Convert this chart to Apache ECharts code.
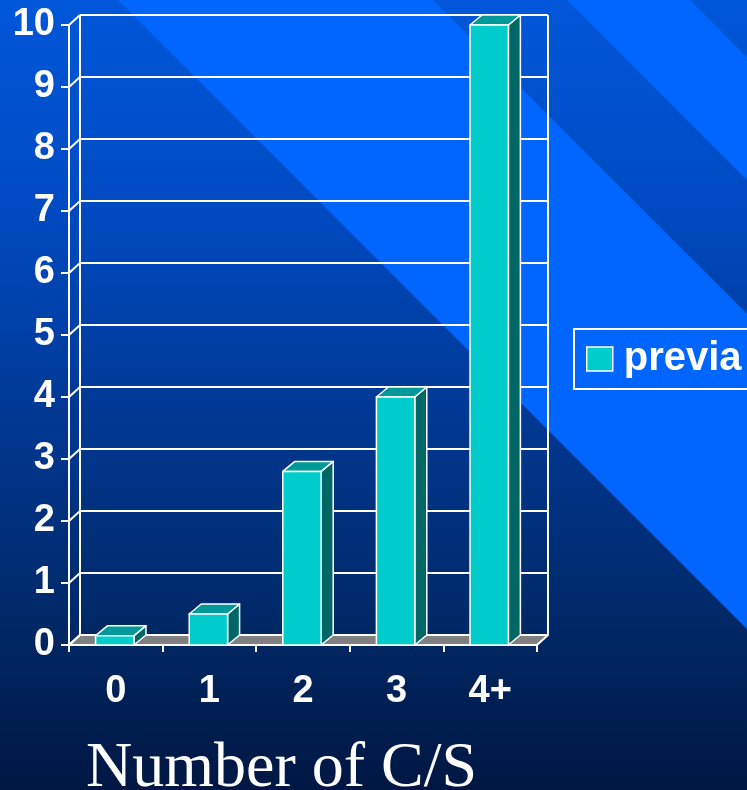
<!DOCTYPE html>
<html>
<head>
<meta charset="utf-8">
<script src="https://cdn.jsdelivr.net/npm/echarts@6/dist/echarts.min.js"></script>
<style>
  html, body { margin: 0; padding: 0; background: #00163f; }
  #chart { width: 747px; height: 790px; }
</style>
</head>
<body>
<div id="chart"></div>
<script>
// Chart data
const categories = ['0', '1', '2', '3', '4+'];
const previa = [0.15, 0.5, 2.8, 4, 10];
const yTicks = [0, 1, 2, 3, 4, 5, 6, 7, 8, 9, 10];
const seriesName = 'previa';
const axisTitle = 'Number of C/S';

// Styling constants
const FONT = "'Liberation Sans', Arial, sans-serif";
const FRONT = '#00CCCC';
const TOP = '#009999';
const SIDE = '#006666';
const FLOOR = '#808080';
const WALL_DX = 11, WALL_DY = -10;   // depth of the back wall
const BAR_DX = 12, BAR_DY = -10;     // depth of each bar
const LINE = { stroke: '#ffffff', lineWidth: 2 };

const chart = echarts.init(document.getElementById('chart'));

// Back wall, floor and depth connectors, positioned by the grid's scales
function renderFrame(params, api) {
  const cs = params.coordSys;
  const left = cs.x, right = cs.x + cs.width;
  const bottom = cs.y + cs.height;
  const children = [];
  children.push({
    type: 'polygon',
    shape: { points: [[left, bottom], [left + WALL_DX, bottom + WALL_DY], [right + WALL_DX, bottom + WALL_DY], [right, bottom]] },
    style: { fill: FLOOR, stroke: '#ffffff', lineWidth: 2, lineJoin: 'round' }
  });
  yTicks.forEach(function (v) {
    const y = api.coord([0, v])[1];
    children.push({
      type: 'line',
      shape: { x1: left + WALL_DX, y1: y + WALL_DY, x2: right + WALL_DX, y2: y + WALL_DY },
      style: LINE
    });
    children.push({
      type: 'line',
      shape: { x1: left, y1: y, x2: left + WALL_DX, y2: y + WALL_DY },
      style: LINE
    });
  });
  const yTop = api.coord([0, yTicks[yTicks.length - 1]])[1];
  [left, right].forEach(function (x) {
    children.push({
      type: 'line',
      shape: { x1: x + WALL_DX, y1: yTop + WALL_DY, x2: x + WALL_DX, y2: bottom + WALL_DY },
      style: LINE
    });
  });
  return { type: 'group', children: children };
}

// Prism-shaped bar: front face, top face and right side face
function renderBar(params, api) {
  const idx = api.value(0);
  const base = api.coord([idx, 0]);
  const tip = api.coord([idx, api.value(1)]);
  const band = api.size([1, 0])[0];
  const w = band * 0.41;
  const x0 = base[0] - w / 2 - 1;
  const x1 = x0 + w;
  const yb = base[1], yt = tip[1];
  const edge = { stroke: '#ffffff', lineWidth: 1.5, lineJoin: 'round' };
  return {
    type: 'group',
    children: [
      {
        type: 'polygon',
        shape: { points: [[x1, yt], [x1 + BAR_DX, yt + BAR_DY], [x1 + BAR_DX, yb + BAR_DY], [x1, yb]] },
        style: Object.assign({ fill: SIDE }, edge)
      },
      {
        type: 'polygon',
        shape: { points: [[x0, yt], [x0 + BAR_DX, yt + BAR_DY], [x1 + BAR_DX, yt + BAR_DY], [x1, yt]] },
        style: Object.assign({ fill: TOP }, edge)
      },
      {
        type: 'rect',
        shape: { x: x0, y: yt, width: w, height: yb - yt },
        style: Object.assign({ fill: FRONT }, edge)
      }
    ]
  };
}

const option = {
  backgroundColor: {
    type: 'linear', x: 0, y: 0, x2: 0, y2: 1,
    colorStops: [
      { offset: 0, color: '#0057D9' },
      { offset: 0.25, color: '#004BC4' },
      { offset: 0.5, color: '#003A98' },
      { offset: 0.78, color: '#002968' },
      { offset: 1, color: '#001742' }
    ]
  },
  animation: false,
  graphic: [
    {
      type: 'polygon', silent: true, z: -10,
      shape: { points: [[118, 0], [433, 0], [747, 314], [747, 629]] },
      style: { fill: '#0066FF' }
    },
    {
      type: 'polygon', silent: true, z: -10,
      shape: { points: [[567, 0], [690, 0], [747, 57], [747, 180]] },
      style: { fill: '#0066FF' }
    }
  ],
  title: {
    text: axisTitle,
    left: 86,
    top: 737,
    padding: 0,
    textStyle: {
      color: '#ffffff',
      fontFamily: "'Liberation Serif', 'Times New Roman', serif",
      fontSize: 64,
      fontWeight: 'normal',
      lineHeight: 64
    }
  },
  legend: {
    data: [{
      name: seriesName,
      icon: 'rect',
      itemStyle: { color: FRONT, borderColor: '#ffffff', borderWidth: 1.5 }
    }],
    left: 574,
    top: 329,
    orient: 'vertical',
    itemWidth: 26,
    itemHeight: 24,
    padding: [10, 30, 10, 12],
    borderColor: '#ffffff',
    borderWidth: 2,
    selectedMode: false,
    textStyle: {
      color: '#ffffff',
      fontFamily: FONT,
      fontSize: 40,
      fontWeight: 'bold',
      lineHeight: 26,
      padding: [0, 0, 0, 6]
    }
  },
  grid: { left: 69, right: 210, top: 25, bottom: 145, containLabel: false },
  xAxis: {
    type: 'category',
    data: categories,
    boundaryGap: true,
    axisLine: { lineStyle: { color: '#ffffff', width: 2 } },
    axisTick: { show: true, length: 7, alignWithLabel: false, lineStyle: { color: '#ffffff', width: 2 } },
    axisLabel: { color: '#ffffff', fontFamily: FONT, fontSize: 38, fontWeight: 'bold', margin: 28 },
    splitLine: { show: false }
  },
  yAxis: {
    type: 'value',
    min: 0,
    max: 10,
    interval: 1,
    axisLine: { show: true, lineStyle: { color: '#ffffff', width: 2 } },
    axisTick: { show: true, length: 8, lineStyle: { color: '#ffffff', width: 2 } },
    axisLabel: { color: '#ffffff', fontFamily: FONT, fontSize: 38, fontWeight: 'bold', margin: 14 },
    splitLine: { show: false }
  },
  series: [
    {
      name: 'frame',
      type: 'custom',
      renderItem: renderFrame,
      data: [[0, 0]],
      encode: { x: 0, y: 1 },
      clip: false,
      silent: true,
      z: 1
    },
    {
      name: seriesName,
      type: 'custom',
      renderItem: renderBar,
      data: previa.map(function (v, i) { return [i, v]; }),
      encode: { x: 0, y: 1 },
      itemStyle: { color: FRONT },
      clip: false,
      z: 3
    }
  ]
};

chart.setOption(option);
</script>
</body>
</html>
